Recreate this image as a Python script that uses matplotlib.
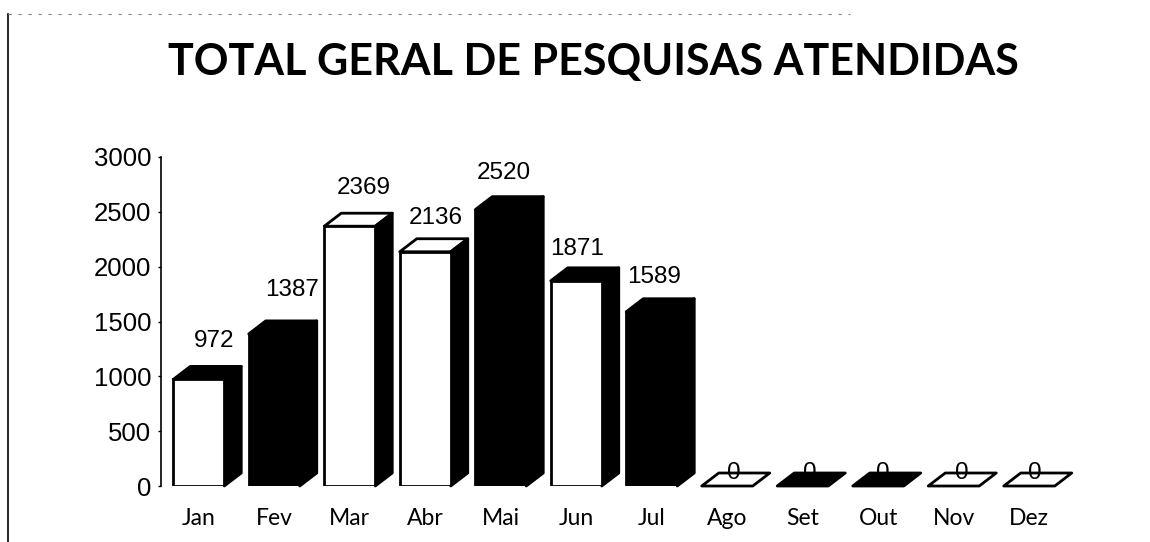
import matplotlib
matplotlib.use('Agg')
import matplotlib.pyplot as plt
from matplotlib.lines import Line2D
from matplotlib.patches import Polygon

months = ['Jan', 'Fev', 'Mar', 'Abr', 'Mai', 'Jun', 'Jul', 'Ago', 'Set', 'Out', 'Nov', 'Dez']
values = [972, 1387, 2369, 2136, 2520, 1871, 1589, 0, 0, 0, 0, 0]
yticks = [0, 500, 1000, 1500, 2000, 2500, 3000]
front_colors = ['w', 'k', 'w', 'w', 'k', 'w', 'k', 'w', 'k', 'k', 'w', 'w']
top_colors = ['k', 'k', 'w', 'w', 'k', 'k', 'k', 'w', 'k', 'k', 'w', 'w']
# label nudges in pixels, the labels sit a bit irregularly in the original
label_dx = [15, 18, 14, 10, 3, 1, 2, 7, 7, 5, 8, 6]
label_dy = [25, 31, 25, 21, 24, 19, 22, 0, 0, 0, 0, 0]

W, H = 1150, 542
STEP = 75.5
BAR = 51 / STEP
DX = 17 / STEP
DY = 13 / 329 * 3000


def draw_bar(ax, x, v, front, top):
    l, r = x - BAR / 2, x + BAR / 2
    ax.bar(x, v, BAR, color=front, edgecolor='k', linewidth=2, zorder=3)
    # top and right side of the 3d box
    ax.add_patch(Polygon([(l, v), (l + DX, v + DY), (r + DX, v + DY), (r, v)],
                         facecolor=top, edgecolor='k', linewidth=2, joinstyle='round',
                         clip_on=False, zorder=2))
    if v > 0:
        ax.add_patch(Polygon([(r, 0), (r + DX, DY), (r + DX, v + DY), (r, v)],
                             facecolor='k', edgecolor='k', linewidth=2, joinstyle='round',
                             clip_on=False, zorder=2))


def main():
    plt.rcParams['font.family'] = ['Liberation Sans']
    fig = plt.figure(figsize=(W / 100, H / 100), dpi=100)
    ax = fig.add_axes([161 / W, 1 - 486 / H, 12 * STEP / W, 329 / H])

    for i, v in enumerate(values):
        draw_bar(ax, i, v, front_colors[i], top_colors[i])
        ax.annotate(str(v), (i, v + DY), xytext=(label_dx[i], label_dy[i]),
                    textcoords='offset pixels', ha='center', va='center',
                    fontsize=17.5, color='k', zorder=5)

    ax.set_xlim(-0.5, 11.5)
    ax.set_ylim(0, 3000)
    ax.set_yticks(yticks)
    ax.set_xticks(range(len(months)))
    ax.set_xticklabels(months, fontfamily='Lato', fontsize=16.5)
    ax.tick_params(axis='x', length=0, pad=16)
    ax.tick_params(axis='y', length=2, width=1, pad=5, labelsize=18.5)
    for s in ['top', 'right', 'bottom']:
        ax.spines[s].set_visible(False)
    ax.spines['left'].set_linewidth(1.2)

    fig.text(593 / W, 1 - 62 / H, 'TOTAL GERAL DE PESQUISAS ATENDIDAS', ha='center', va='center',
             fontsize=31, fontweight='bold', fontfamily='Lato', color='k')

    # scanned slide frame, left edge and the faint broken top edge
    fig.add_artist(Line2D([8 / W, 8 / W], [0, 1 - 14 / H], color='k', linewidth=1.2))
    fig.add_artist(Line2D([8 / W, 850 / W], [1 - 14 / H, 1 - 14 / H], color='#888888',
                          linewidth=0.8, linestyle=(0, (3, 6))))

    fig.savefig('out.png', dpi=100)


if __name__ == '__main__':
    main()
